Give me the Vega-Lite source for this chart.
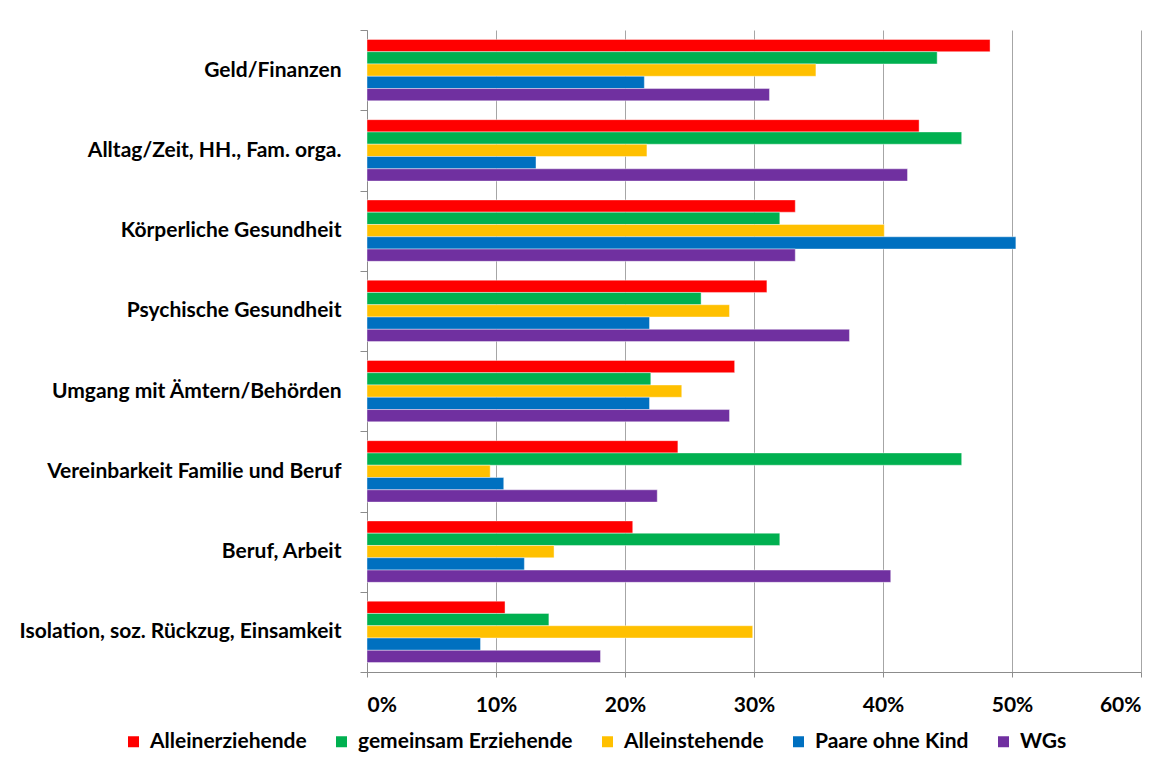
{
  "$schema": "https://vega.github.io/schema/vega-lite/v6.json",
  "autosize": "none",
  "width": 774,
  "height": 642,
  "padding": {"left": 367, "top": 30, "right": 29, "bottom": 88},
  "background": "white",
  "data": {
    "values": [
      {"cat": "Geld/Finanzen", "series": "Alleinerziehende", "value": 0.483},
      {"cat": "Geld/Finanzen", "series": "gemeinsam Erziehende", "value": 0.442},
      {"cat": "Geld/Finanzen", "series": "Alleinstehende", "value": 0.348},
      {"cat": "Geld/Finanzen", "series": "Paare ohne Kind", "value": 0.215},
      {"cat": "Geld/Finanzen", "series": "WGs", "value": 0.312},
      {"cat": "Alltag/Zeit, HH., Fam. orga.", "series": "Alleinerziehende", "value": 0.428},
      {"cat": "Alltag/Zeit, HH., Fam. orga.", "series": "gemeinsam Erziehende", "value": 0.461},
      {"cat": "Alltag/Zeit, HH., Fam. orga.", "series": "Alleinstehende", "value": 0.217},
      {"cat": "Alltag/Zeit, HH., Fam. orga.", "series": "Paare ohne Kind", "value": 0.131},
      {"cat": "Alltag/Zeit, HH., Fam. orga.", "series": "WGs", "value": 0.419},
      {"cat": "Körperliche Gesundheit", "series": "Alleinerziehende", "value": 0.332},
      {"cat": "Körperliche Gesundheit", "series": "gemeinsam Erziehende", "value": 0.32},
      {"cat": "Körperliche Gesundheit", "series": "Alleinstehende", "value": 0.401},
      {"cat": "Körperliche Gesundheit", "series": "Paare ohne Kind", "value": 0.503},
      {"cat": "Körperliche Gesundheit", "series": "WGs", "value": 0.332},
      {"cat": "Psychische Gesundheit", "series": "Alleinerziehende", "value": 0.31},
      {"cat": "Psychische Gesundheit", "series": "gemeinsam Erziehende", "value": 0.259},
      {"cat": "Psychische Gesundheit", "series": "Alleinstehende", "value": 0.281},
      {"cat": "Psychische Gesundheit", "series": "Paare ohne Kind", "value": 0.219},
      {"cat": "Psychische Gesundheit", "series": "WGs", "value": 0.374},
      {"cat": "Umgang mit Ämtern/Behörden", "series": "Alleinerziehende", "value": 0.285},
      {"cat": "Umgang mit Ämtern/Behörden", "series": "gemeinsam Erziehende", "value": 0.22},
      {"cat": "Umgang mit Ämtern/Behörden", "series": "Alleinstehende", "value": 0.244},
      {"cat": "Umgang mit Ämtern/Behörden", "series": "Paare ohne Kind", "value": 0.219},
      {"cat": "Umgang mit Ämtern/Behörden", "series": "WGs", "value": 0.281},
      {"cat": "Vereinbarkeit Familie und Beruf", "series": "Alleinerziehende", "value": 0.241},
      {"cat": "Vereinbarkeit Familie und Beruf", "series": "gemeinsam Erziehende", "value": 0.461},
      {"cat": "Vereinbarkeit Familie und Beruf", "series": "Alleinstehende", "value": 0.0955},
      {"cat": "Vereinbarkeit Familie und Beruf", "series": "Paare ohne Kind", "value": 0.106},
      {"cat": "Vereinbarkeit Familie und Beruf", "series": "WGs", "value": 0.225},
      {"cat": "Beruf, Arbeit", "series": "Alleinerziehende", "value": 0.206},
      {"cat": "Beruf, Arbeit", "series": "gemeinsam Erziehende", "value": 0.32},
      {"cat": "Beruf, Arbeit", "series": "Alleinstehende", "value": 0.145},
      {"cat": "Beruf, Arbeit", "series": "Paare ohne Kind", "value": 0.122},
      {"cat": "Beruf, Arbeit", "series": "WGs", "value": 0.406},
      {"cat": "Isolation, soz. Rückzug, Einsamkeit", "series": "Alleinerziehende", "value": 0.107},
      {"cat": "Isolation, soz. Rückzug, Einsamkeit", "series": "gemeinsam Erziehende", "value": 0.141},
      {"cat": "Isolation, soz. Rückzug, Einsamkeit", "series": "Alleinstehende", "value": 0.299},
      {"cat": "Isolation, soz. Rückzug, Einsamkeit", "series": "Paare ohne Kind", "value": 0.088},
      {"cat": "Isolation, soz. Rückzug, Einsamkeit", "series": "WGs", "value": 0.181}
    ]
  },
  "mark": {"type": "bar", "stroke": "white", "strokeWidth": 0.6, "strokeOpacity": 0.7},
  "encoding": {
    "y": {
      "field": "cat",
      "type": "nominal",
      "sort": ["Geld/Finanzen", "Alltag/Zeit, HH., Fam. orga.", "Körperliche Gesundheit", "Psychische Gesundheit", "Umgang mit Ämtern/Behörden", "Vereinbarkeit Familie und Beruf", "Beruf, Arbeit", "Isolation, soz. Rückzug, Einsamkeit"],
      "scale": {"paddingInner": 0, "paddingOuter": 0},
      "axis": {
        "title": null,
        "grid": false,
        "tickBand": "extent",
        "tickSize": 7,
        "tickColor": "#8c8c8c",
        "domainColor": "#8c8c8c",
        "labelFont": "Lato",
        "labelFontSize": 21,
        "labelFontWeight": "bold",
        "labelColor": "#000000",
        "labelPadding": 19,
        "labelLimit": 400
      }
    },
    "yOffset": {
      "field": "series",
      "sort": ["Alleinerziehende", "gemeinsam Erziehende", "Alleinstehende", "Paare ohne Kind", "WGs"],
      "scale": {"paddingInner": 0, "paddingOuter": 0.767}
    },
    "x": {
      "field": "value",
      "type": "quantitative",
      "scale": {"domain": [0, 0.6], "nice": false},
      "axis": {
        "title": null,
        "values": [0, 0.1, 0.2, 0.3, 0.4, 0.5, 0.6],
        "format": ".0%",
        "grid": true,
        "gridColor": "#a6a6a6",
        "gridWidth": 1,
        "tickSize": 5,
        "tickColor": "#8c8c8c",
        "domainColor": "#8c8c8c",
        "labelFont": "Lato",
        "labelFontSize": 21,
        "labelFontWeight": "bold",
        "labelColor": "#000000",
        "labelPadding": 17
      }
    },
    "color": {
      "field": "series",
      "type": "nominal",
      "sort": ["Alleinerziehende", "gemeinsam Erziehende", "Alleinstehende", "Paare ohne Kind", "WGs"],
      "scale": {
        "domain": ["Alleinerziehende", "gemeinsam Erziehende", "Alleinstehende", "Paare ohne Kind", "WGs"],
        "range": ["#ff0000", "#00b050", "#ffc000", "#0070c0", "#7030a0"]
      },
      "legend": {
        "title": null,
        "orient": "none",
        "direction": "horizontal",
        "legendX": -244,
        "legendY": 701,
        "symbolType": "square",
        "symbolSize": 121,
        "symbolStrokeWidth": 0,
        "symbolOpacity": 1,
        "labelFont": "Lato",
        "labelFontSize": 21,
        "labelFontWeight": "bold",
        "labelColor": "#000000",
        "labelOffset": 6,
        "labelLimit": 400,
        "columnPadding": 24
      }
    }
  },
  "config": {"view": {"stroke": null}}
}
